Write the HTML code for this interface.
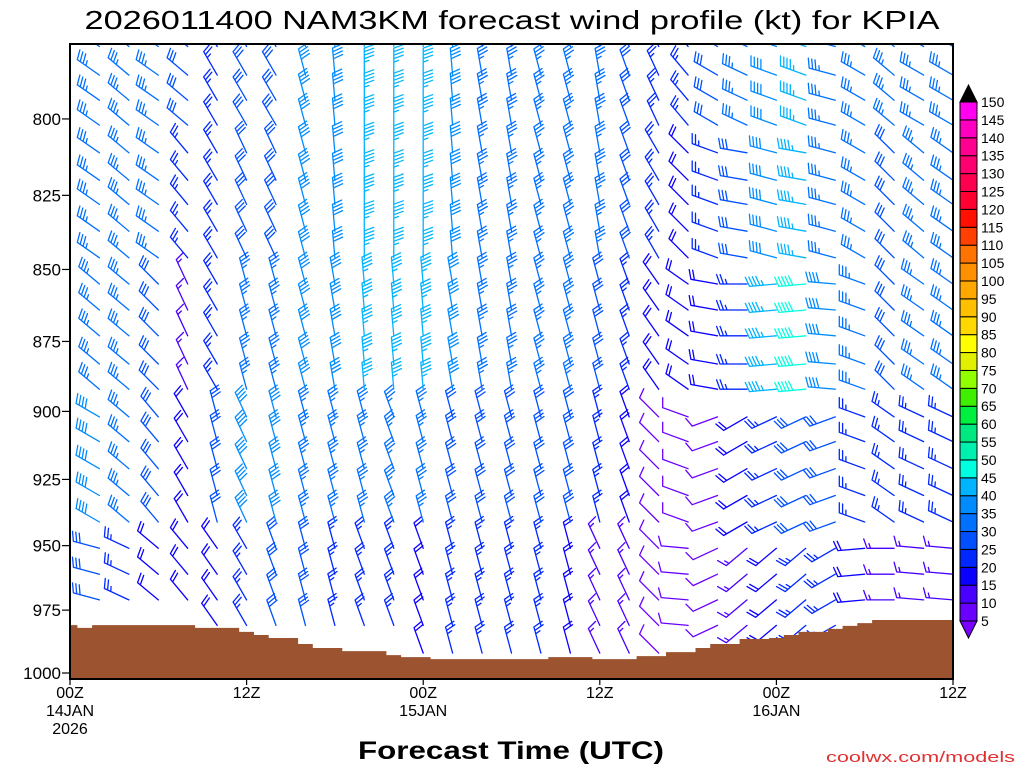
<!DOCTYPE html>
<html><head><meta charset="utf-8"><style>
html,body{margin:0;padding:0;background:#fff}
svg{display:block}
text{font-family:"Liberation Sans",sans-serif;fill:#000}
</style></head><body>
<svg id="chart" width="1024" height="768" viewBox="0 0 1024 768" xmlns="http://www.w3.org/2000/svg">
<defs><clipPath id="plotclip"><rect x="70" y="44" width="883" height="635"/></clipPath></defs>
<rect x="0" y="0" width="1024" height="768" fill="#fff"/>
<text x="512" y="29" text-anchor="middle" font-size="26" textLength="855" lengthAdjust="spacingAndGlyphs">2026011400 NAM3KM forecast wind profile (kt) for KPIA</text>
<g id="barbs" clip-path="url(#plotclip)"></g>
<g id="terrain"></g>
<rect x="70" y="44" width="883" height="635" fill="none" stroke="#000" stroke-width="2"/>
<g id="yaxis"></g>
<g id="xaxis"></g>
<text x="511" y="759" text-anchor="middle" font-size="25" font-weight="bold" textLength="306" lengthAdjust="spacingAndGlyphs">Forecast Time (UTC)</text>
<text x="1015" y="762" text-anchor="end" font-size="15" fill="#e03030" style="fill:#e03030" textLength="189" lengthAdjust="spacingAndGlyphs">coolwx.com/models</text>
<g id="colorbar"></g>
</svg>
<script>
// ---- data ----
const hours = [0,2,4,6,8,10,12,14,16,18,20,22,24,26,28,30,32,34,36,38,40,42,44,46,48,50,52,54,56,58,60];
const levels = [992,981,971,961,951,941,931,921,911,902,892,883,873,864,855,846,837,828,820,811,802,794,786,777];
// layer directions (deg from) and speeds (kt): E <805, D 805-850, C 850-900, B 900-950, A >950
const dirE = [305,305,310,305,310,330,330,330,345,355,360,360,360,355,350,350,345,345,350,340,335,320,300,295,290,290,285,300,310,300,300];
const dirD = [305,305,310,305,320,330,335,335,345,355,360,360,360,355,350,350,345,345,350,340,330,315,290,280,285,280,285,300,315,310,305];
const dirC = [310,310,310,315,335,330,345,345,345,350,355,355,355,350,350,350,345,345,345,340,325,305,280,270,265,265,275,290,315,305,305];
const dirB = [300,300,310,320,330,345,335,345,345,345,345,340,345,345,345,345,345,345,345,340,315,290,250,240,245,245,250,290,305,295,295];
const dirA = [285,285,295,310,320,325,330,340,345,345,340,340,340,345,345,345,345,345,335,335,315,275,245,230,230,230,240,265,270,275,275];
const spdE = [35,35,35,35,30,25,30,30,40,40,45,45,45,40,35,35,35,35,35,30,25,25,30,35,40,45,35,35,35,35,35];
const spdD = [35,35,35,35,25,25,30,30,40,40,45,45,45,40,35,35,35,35,35,30,25,20,25,30,40,45,35,35,30,35,35];
const spdC = [35,35,35,30,15,25,35,35,40,40,45,45,45,40,35,35,35,35,30,25,20,20,20,25,45,50,40,35,30,35,35];
const spdB = [40,40,35,30,20,30,40,40,35,35,35,35,35,30,30,30,30,30,25,20,10,10,10,20,25,30,30,25,25,25,25];
const spdA = [30,30,25,20,20,20,25,30,30,25,25,25,20,25,25,25,25,20,15,15,10,10,10,15,20,25,25,20,15,15,15];
const sfcHours = [];
for (let h = 0; h <= 60; h++) sfcHours.push(h);
const sfcP = [980.9,982,980.9,980.9,980.9,980.9,980.9,980.9,980.9,982,982,982,983.6,984.8,986,986,988.4,990,990,991.2,991.2,991.2,992.8,993.6,993.6,994.4,994.4,994.4,994.4,994.4,994.4,994.4,994.4,993.6,993.6,993.6,994.4,994.4,994.4,993.2,993.2,991.6,991.6,990,988.4,988.4,986.4,986.4,986,984.8,983.6,983.6,982.4,981.2,980.1,978.9,978.9,978.9,978.9,978.9,978.9];
const yTicks = [800,825,850,875,900,925,950,975,1000];
const xTickHours = [0,12,24,36,48,60];
const xTickLabels = [["00Z","14JAN","2026"],["12Z"],["00Z","15JAN"],["12Z"],["00Z","16JAN"],["12Z"]];
const cbValues = [5,10,15,20,25,30,35,40,45,50,55,60,65,70,75,80,85,90,95,100,105,110,115,120,125,130,135,140,145,150];
const cbColors = ["#6a00ff","#4a00ff","#0a00ff","#0028ff","#0050ff","#0070ff","#008cff","#00b4ff","#00ffe0","#00f0b0","#00e880","#00f040","#40ee00","#90ff00","#e0f000","#ffff00","#ffd800","#ffc000","#ffa800","#ff9000","#ff7400","#ff4000","#ff1000","#ff0030","#ff0050","#ff0070","#ff0090","#ff00c0","#ff00f0"];

// ---- axes ----
const NS = "http://www.w3.org/2000/svg";
const X0 = 70, X1 = 953, Y1000 = 673, B = 2483;
function xs(h){ return X0 + (X1 - X0) * h / 60; }
function ys(p){ return Y1000 - B * Math.log(1000 / p); }
function mk(tag, attrs, parent){ const e = document.createElementNS(NS, tag); for (const k in attrs) e.setAttribute(k, attrs[k]); parent.appendChild(e); return e; }
function colorFor(s){ let i = Math.floor((s - 1) / 5) - 1; if (i < 0) return "#7a00ff"; if (i >= cbColors.length) i = cbColors.length - 1; return cbColors[i]; }

// barbs
const gB = document.getElementById("barbs");
const L = 27;
hours.forEach((h, ci) => {
  const ps = sfcP[h];
  levels.forEach((p, ri) => {
    if (p > ps - 1) return;
    let d, s;
    if (p < 805) { d = dirE[ci]; s = spdE[ci]; }
    else if (p < 850) { d = dirD[ci]; s = spdD[ci]; }
    else if (p < 900) { d = dirC[ci]; s = spdC[ci]; }
    else if (p < 950) { d = dirB[ci]; s = spdB[ci]; }
    else { d = dirA[ci]; s = spdA[ci]; }
    const x = xs(h), y = ys(p);
    const r = d * Math.PI / 180;
    const ux = Math.sin(r), uy = -Math.cos(r);
    const tx = x + ux * L, ty = y + uy * L;
    const a = 70 * Math.PI / 180;
    const bx = ux * Math.cos(a) - uy * Math.sin(a), by = ux * Math.sin(a) + uy * Math.cos(a);
    const col = colorFor(s);
    let path = `M${x.toFixed(1)},${y.toFixed(1)}L${tx.toFixed(1)},${ty.toFixed(1)}`;
    const full = Math.floor(s / 10), half = (s % 10) >= 5 ? 1 : 0;
    let k = 0;
    for (let i = 0; i < full; i++, k++) {
      const px = tx - ux * 3.5 * k, py = ty - uy * 3.5 * k;
      path += `M${px.toFixed(1)},${py.toFixed(1)}l${(bx * 10).toFixed(1)},${(by * 10).toFixed(1)}`;
    }
    if (half) {
      if (k === 0) k = 1;
      const px = tx - ux * 3.5 * k, py = ty - uy * 3.5 * k;
      path += `M${px.toFixed(1)},${py.toFixed(1)}l${(bx * 5).toFixed(1)},${(by * 5).toFixed(1)}`;
    }
    const e = mk("path", {d: path, stroke: col, "stroke-width": "1.3", fill: "none", "stroke-linecap": "round"}, gB);
    
    
  });
});

// terrain
const gT = document.getElementById("terrain");
let tp = `M${X0},679`;
sfcHours.forEach((h, i) => {
  const xa = Math.max(X0, xs(h - 0.5)), xb = Math.min(X1, xs(h + 0.5));
  const y = ys(sfcP[i]).toFixed(1);
  tp += `L${xa.toFixed(1)},${y}L${xb.toFixed(1)},${y}`;
});
tp += `L${X1},679Z`;
const terr = mk("path", {d: tp, fill: "#9c5430"}, gT);



// y axis
const gY = document.getElementById("yaxis");
yTicks.forEach(p => {
  const y = ys(p);
  const t = mk("line", {x1: 62, x2: 70, y1: y, y2: y, stroke: "#000", "stroke-width": 1.2}, gY);
  
  
  const lb = mk("text", {x: 61, y: y + 6, "text-anchor": "end", "font-size": 17}, gY);
  lb.textContent = String(p);
  
  
});
// x axis
const gX = document.getElementById("xaxis");
xTickHours.forEach((h, i) => {
  const x = xs(h);
  const t = mk("line", {x1: x, x2: x, y1: 679, y2: 685, stroke: "#000", "stroke-width": 1.2}, gX);
  
  
  xTickLabels[i].forEach((s, j) => {
    const lb = mk("text", {x: x, y: 698 + j * 18, "text-anchor": "middle", "font-size": 16}, gX);
    lb.textContent = s;
    
    
  });
});

// colorbar
const gC = document.getElementById("colorbar");
const cbTop = 102, cbBot = 621, cbL = 960, cbW = 17;
const cell = (cbBot - cbTop) / cbColors.length;
cbColors.forEach((c, i) => {
  const y = cbBot - (i + 1) * cell;
  const r = mk("rect", {x: cbL, y: y, width: cbW, height: cell, fill: c, stroke: "#000", "stroke-width": 1}, gC);
  
  
});
const tri1 = mk("path", {d: `M${cbL},${cbBot}L${cbL + cbW},${cbBot}L${cbL + cbW / 2},${cbBot + 17}Z`, fill: "#7a00ff", stroke: "#000"}, gC);


const tri2 = mk("path", {d: `M${cbL},${cbTop}L${cbL + cbW},${cbTop}L${cbL + cbW / 2},${cbTop - 17}Z`, fill: "#000", stroke: "#000"}, gC);


cbValues.forEach((v, i) => {
  const y = cbBot - i * cell;
  const lb = mk("text", {x: 981, y: y + 5, "font-size": 14}, gC);
  lb.textContent = String(v);
  
  
});
</script>
</body></html>
